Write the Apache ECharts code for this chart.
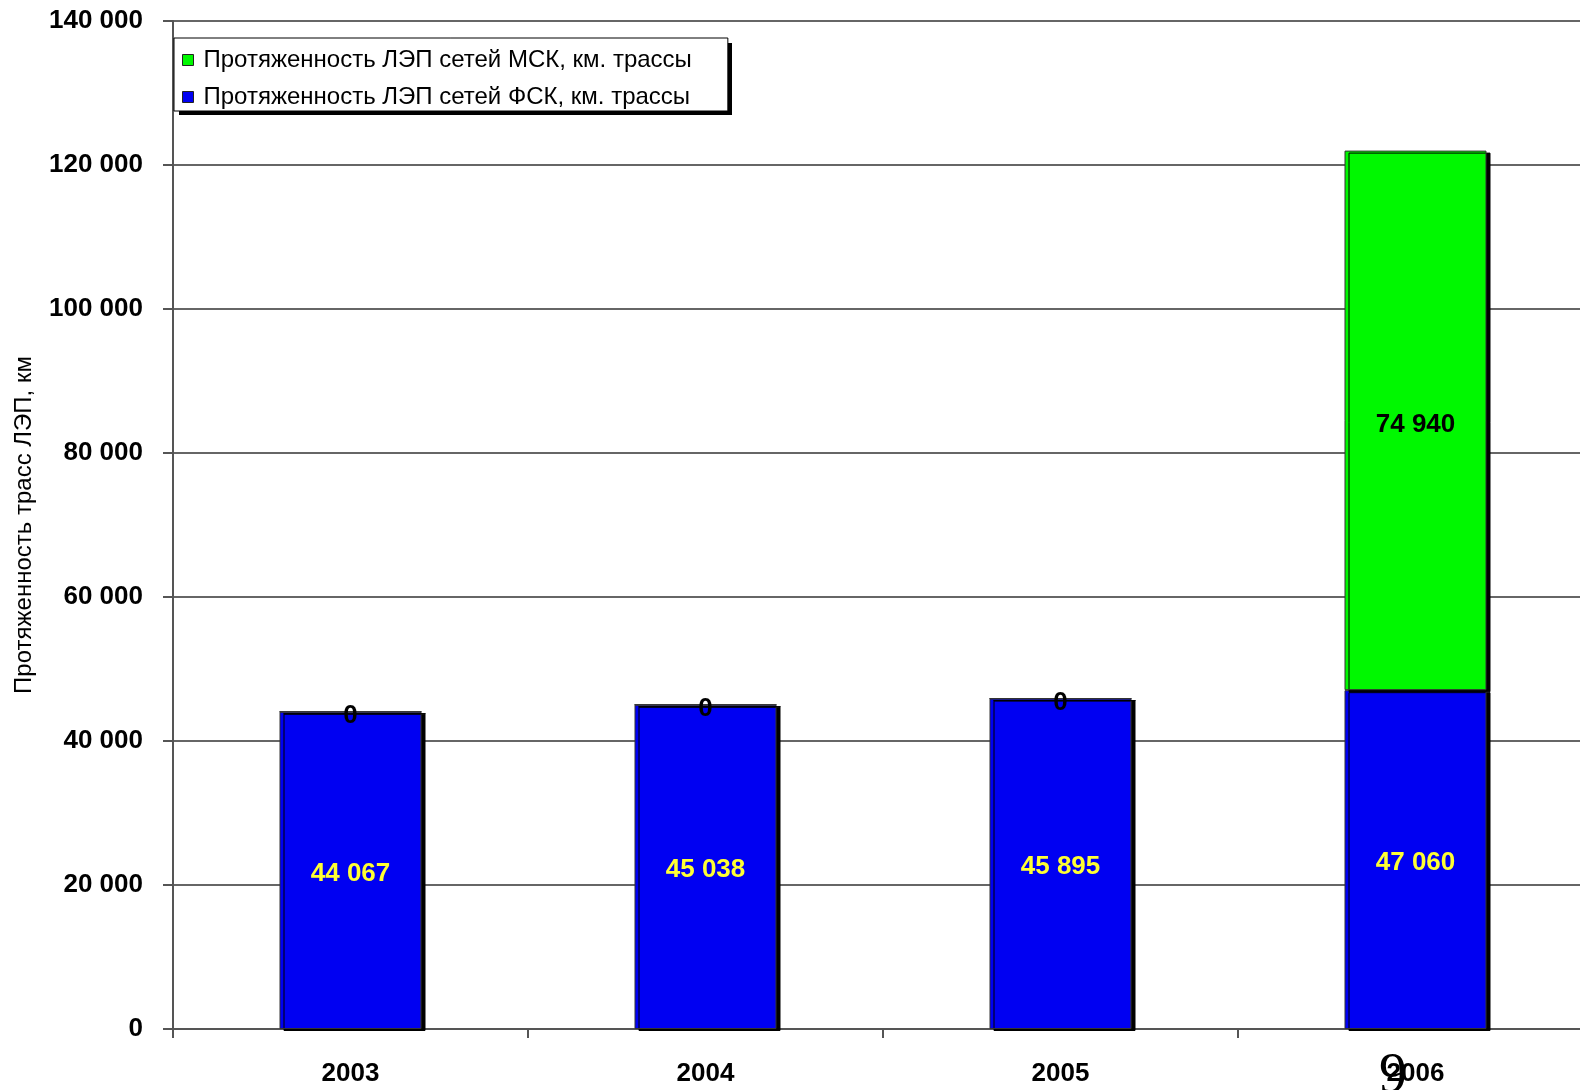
<!DOCTYPE html>
<html>
<head>
<meta charset="utf-8">
<script src="https://cdn.jsdelivr.net/npm/echarts@6/dist/echarts.min.js"></script>
<style>
html,body{margin:0;padding:0;background:#fff;}
#chart{width:1580px;height:1090px;}
</style>
</head>
<body>
<div id="chart"></div>
<script>
const categories = ['2003', '2004', '2005', '2006'];
const fskValues = [44067, 45038, 45895, 47060];
const mskValues = [0, 0, 0, 74940];
const yTicks = [0, 20000, 40000, 60000, 80000, 100000, 120000, 140000];
const seriesNames = ['Протяженность ЛЭП сетей МСК, км. трассы', 'Протяженность ЛЭП сетей ФСК, км. трассы'];
const yAxisTitle = 'Протяженность трасс ЛЭП, км';
const pageNumber = '9';

function fmt(v) {
  return String(v).replace(/\B(?=(\d{3})+(?!\d))/g, ' ');
}

const FONT = '"Liberation Sans", Arial, sans-serif';
const chart = echarts.init(document.getElementById('chart'), null, {renderer: 'canvas'});

chart.setOption({
  animation: false,
  backgroundColor: '#fff',
  grid: {left: 173, width: 1420, top: 21, height: 1008, containLabel: false, outerBoundsMode: 'none'},
  legend: {
    orient: 'vertical',
    left: 174,
    top: 38,
    z: 10,
    data: [seriesNames[0], seriesNames[1]],
    icon: 'rect',
    itemWidth: 11,
    itemHeight: 11,
    itemGap: 13,
    padding: [10, 36, 2, 8],
    backgroundColor: '#fff',
    borderColor: '#000',
    borderWidth: 1,
    itemStyle: {borderColor: '#222', borderWidth: 1},
    textStyle: {fontFamily: FONT, fontSize: 24, color: '#000', padding: [0, 0, 0, 5]}
  },
  xAxis: {
    type: 'category',
    data: categories,
    boundaryGap: true,
    axisLine: {show: true, lineStyle: {color: '#555', width: 2}},
    axisTick: {show: true, inside: false, length: 9, lineStyle: {color: '#555', width: 2}},
    axisLabel: {fontFamily: FONT, fontSize: 26, fontWeight: 'bold', color: '#000', margin: 32},
    splitLine: {show: false}
  },
  yAxis: {
    type: 'value',
    min: 0,
    max: 140000,
    interval: 20000,
    name: yAxisTitle,
    nameLocation: 'middle',
    nameGap: 137,
    nameTextStyle: {fontFamily: FONT, fontSize: 24, color: '#000'},
    axisLine: {show: true, lineStyle: {color: '#555', width: 2}},
    axisTick: {show: true, inside: false, length: 10, lineStyle: {color: '#555', width: 2}},
    axisLabel: {fontFamily: FONT, fontSize: 26, fontWeight: 'bold', color: '#000', margin: 30,
      formatter: function (v) { return fmt(v); }},
    splitLine: {show: true, lineStyle: {color: '#333', width: 1.5}}
  },
  series: [
    {
      name: seriesNames[1],
      type: 'bar',
      stack: 'total',
      data: fskValues,
      barWidth: '40%',
      itemStyle: {color: '#0000f2', borderColor: '#333', borderWidth: 1,
        shadowColor: '#000', shadowBlur: 0, shadowOffsetX: 4, shadowOffsetY: 2},
      label: {show: true, position: 'inside', offset: [0, 3], fontFamily: FONT, fontSize: 26, fontWeight: 'bold', color: '#ffff33',
        formatter: function (p) { return fmt(p.value); }}
    },
    {
      name: seriesNames[0],
      type: 'bar',
      stack: 'total',
      data: mskValues,
      barWidth: '40%',
      itemStyle: {color: '#00f800', borderColor: '#333', borderWidth: 1,
        shadowColor: '#000', shadowBlur: 0, shadowOffsetX: 4, shadowOffsetY: 2},
      label: {show: true, position: 'inside', offset: [0, 4], fontFamily: FONT, fontSize: 26, fontWeight: 'bold', color: '#000',
        formatter: function (p) { return fmt(p.value); }}
    }
  ],
  graphic: [
    {
      type: 'rect',
      z: 5,
      shape: {x: 179, y: 43, width: 553, height: 72},
      style: {fill: '#000'}
    },
    {
      type: 'text',
      left: 1379,
      top: 1049,
      z: 100,
      style: {text: pageNumber, font: '56px "Liberation Serif", "Times New Roman", serif', fill: '#000'}
    }
  ]
});
</script>
</body>
</html>
